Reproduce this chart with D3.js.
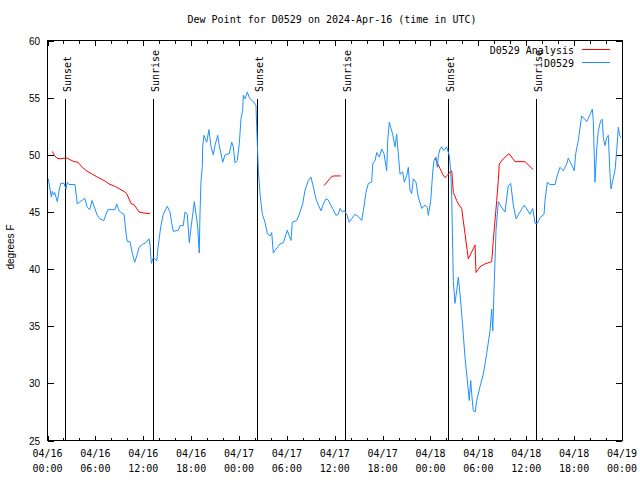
<!DOCTYPE html>
<html><head><meta charset="utf-8">
<script src="https://cdn.jsdelivr.net/npm/d3@7"></script>
<style>
body{margin:0;background:#fff;}
svg{display:block;}
</style></head>
<body><svg id="c" width="640" height="480"></svg>
<script>
// Hours since 2024-04-16 00:00 UTC
const obsHours = [0.10,0.48,0.60,0.75,0.90,1.23,1.44,1.65,2.07,2.32,2.48,2.69,3.45,3.73,4.07,4.32,4.66,4.99,5.29,5.58,5.83,6.24,6.58,6.87,7.08,7.33,7.58,8.46,8.67,8.96,9.30,9.59,9.88,10.00,10.34,10.59,10.93,11.25,11.47,11.88,12.31,12.72,12.85,13.01,13.26,13.69,13.89,14.19,14.51,15.01,15.35,15.57,15.77,16.39,16.61,17.02,17.23,17.52,17.77,17.95,18.20,18.40,18.61,18.82,19.02,19.11,19.24,19.40,19.45,19.61,19.95,20.24,20.49,20.78,20.99,21.33,21.53,21.83,21.96,22.25,22.78,23.09,23.29,23.50,23.79,24.04,24.25,24.46,24.54,24.75,25.04,25.29,25.59,25.88,26.13,26.22,26.30,26.43,26.63,26.92,27.26,27.55,27.89,28.10,28.30,28.64,29.14,29.55,30.05,30.30,30.52,30.68,31.23,31.56,31.98,32.27,32.69,33.02,33.31,33.65,33.94,34.28,34.57,34.90,35.19,35.49,35.74,36.16,36.45,36.66,36.95,37.20,37.50,37.82,38.12,38.54,38.95,39.38,39.58,39.92,40.21,40.63,40.76,41.05,41.26,41.58,41.89,42.17,42.51,42.64,42.84,43.01,43.26,43.55,43.76,43.96,44.18,44.52,44.72,45.02,45.22,45.43,45.64,45.85,46.18,46.47,46.90,47.31,47.60,47.73,48.03,48.28,48.44,48.69,48.85,48.98,49.19,49.40,49.63,49.82,50.03,50.36,50.53,50.66,50.86,51.07,51.28,51.48,51.70,51.91,52.11,52.32,52.54,52.86,53.04,53.16,53.36,53.61,53.79,54.20,54.62,55.04,55.46,55.67,55.80,56.00,56.21,56.50,56.92,57.34,57.75,58.05,58.38,58.72,59.22,59.76,60.47,60.81,61.10,61.39,61.73,62.23,62.35,62.64,62.98,63.61,63.89,64.23,64.64,65.07,65.27,65.70,66.02,66.20,66.52,66.95,67.24,67.58,67.90,68.28,68.40,68.62,68.83,69.03,69.33,69.53,69.66,69.87,70.08,70.28,70.50,70.62,70.84,71.12,71.34,71.54,71.67,71.85];
const obsDew = [47.9,46.3,46.8,46.5,46.7,45.9,46.8,47.5,47.5,47.0,47.6,47.4,47.4,45.7,45.9,46.0,46.2,45.4,45.2,46.0,45.5,44.7,44.4,44.3,44.25,44.8,45.2,45.2,45.7,45.1,44.9,44.8,42.9,42.4,42.4,41.5,40.6,41.3,41.9,42.15,42.3,42.65,42.1,40.5,41.0,40.75,42.1,43.7,44.8,45.5,45.0,44.0,43.3,43.4,43.8,43.8,45.0,44.8,42.3,43.4,44.8,45.9,44.8,43.7,41.4,44.8,47.75,48.9,50.7,51.7,51.1,52.2,50.7,50.0,50.8,51.7,50.8,49.8,49.35,50.0,50.1,51.1,50.7,49.3,49.5,51.0,53.15,53.9,55.2,54.9,55.5,55.0,54.75,54.6,54.3,52.4,50.9,48.6,46.6,44.8,44.1,43.1,42.9,43.2,41.4,41.75,42.2,42.3,43.4,42.9,42.5,44.1,44.25,44.8,45.7,46.9,47.75,48.05,47.2,46.15,45.6,45.1,45.7,46.15,46.05,45.6,45.3,44.7,44.8,45.3,45.0,45.1,44.8,44.1,44.4,44.8,44.6,44.25,45.1,46.7,47.5,47.6,49.2,49.5,50.2,49.8,50.5,50.1,48.6,51.25,52.85,52.4,51.8,50.7,51.8,50.1,48.3,48.5,47.6,48.2,48.9,46.9,46.6,47.9,47.6,46.3,45.3,45.6,45.4,44.7,46.0,48.5,49.5,49.8,48.9,49.9,50.5,50.7,50.4,50.5,50.7,49.9,48.6,46.3,39.0,37.0,38.1,39.3,37.8,36.1,34.3,32.3,30.8,28.5,30.25,29.1,27.6,27.5,28.5,29.7,30.8,32.6,34.6,36.5,34.6,39.0,43.4,45.9,45.4,45.0,47.3,47.5,45.6,44.4,45.0,45.6,44.8,45.3,44.0,44.0,44.5,44.8,46.0,47.6,47.4,47.4,48.2,48.9,48.6,49.2,49.7,49.1,48.6,50.1,51.25,53.4,53.2,52.9,53.35,54.0,53.0,47.6,50.5,52.1,53.0,53.1,51.5,50.8,51.5,51.7,48.3,47.0,47.75,48.6,50.4,52.4,51.8,51.5];

// Analysis series (three separate pieces)
const anaHours1 = [0.60,0.81,1.19,1.57,2.07,2.48,3.32,3.82,4.36,4.99,5.61,6.24,7.08,7.71,8.55,9.59,9.93,10.50,10.84,11.47,12.09,12.85];
const anaDew1   = [50.3,50.0,49.7,49.65,49.7,49.7,49.4,49.35,48.9,48.55,48.3,48.05,47.75,47.45,47.2,46.8,46.6,45.7,45.65,45.0,44.9,44.85];
const anaHours2 = [34.65,35.62,35.90,36.75];
const anaDew2   = [47.3,48.1,48.15,48.15];
const anaHours3 = [48.57,49.19,49.53,49.82,50.11,50.45,50.66,50.86,51.28,51.48,51.91,52.11,52.32,52.74,53.58,53.70,54.20,54.83,55.67,55.87,56.30,56.50,56.62,57.13,57.84,58.59,59.84,60.88];
const anaDew3   = [49.7,48.8,48.3,48.0,48.2,48.5,48.6,46.7,46.0,45.7,45.3,44.25,43.1,40.9,42.1,39.7,40.2,40.45,40.65,42.5,46.0,47.75,49.2,49.65,50.1,49.4,49.4,48.7];

const sunEvents = ["Sunset","Sunrise","Sunset","Sunrise","Sunset","Sunrise"];
const sunHours  = [2.23,13.27,26.23,37.27,50.23,61.27];

const xTickHours = [0,6,12,18,24,30,36,42,48,54,60,66,72];
const xTickDates = ["04/16","04/16","04/16","04/16","04/17","04/17","04/17","04/17","04/18","04/18","04/18","04/18","04/19"];
const xTickTimes = ["00:00","06:00","12:00","18:00","00:00","06:00","12:00","18:00","00:00","06:00","12:00","18:00","00:00"];
const yTicks = [25,30,35,40,45,50,55,60];

const titleText = "Dew Point for D0529 on 2024-Apr-16 (time in UTC)";
const yLabel = "degrees F";
const seriesNames = ["D0529 Analysis","D0529"];

const L=47.5, R=622, T=40.5, B=440.5;
const svg = d3.select("#c");
const x = d3.scaleLinear().domain([0,72]).range([L,R]);
const y = d3.scaleLinear().domain([25,60]).range([B,T]);
const mono = "'DejaVu Sans Mono', monospace";
const sans = "'Liberation Sans', Arial, sans-serif";
const BLUE = "#1e90ff", RED = "#ff0000";

// title
svg.append("text").attr("x",332).attr("y",23).attr("text-anchor","middle")
  .style("font-family",mono).style("font-size","10px").text(titleText);

// y label
svg.append("text").attr("transform","translate(14,247) rotate(-90)").attr("text-anchor","middle")
  .style("font-family",sans).style("font-size","10px").text(yLabel);

// frame
svg.append("rect").attr("x",L).attr("y",T).attr("width",R-L).attr("height",B-T)
  .attr("fill","none").attr("stroke","#000").attr("stroke-width",1).attr("shape-rendering","crispEdges");

// x ticks every 2 h
const g = svg.append("g").attr("shape-rendering","crispEdges").attr("stroke","#000");
d3.range(0,73,2).forEach(h=>{
  const len = (h%6===0)?5:3;
  const xx = Math.round(x(h))+0.5;
  g.append("line").attr("x1",xx).attr("x2",xx).attr("y1",B).attr("y2",B-len);
  g.append("line").attr("x1",xx).attr("x2",xx).attr("y1",T).attr("y2",T+len);
});
// y ticks
yTicks.forEach(v=>{
  const yy = Math.round(y(v))+0.5;
  g.append("line").attr("x1",L).attr("x2",L+6).attr("y1",yy).attr("y2",yy);
  g.append("line").attr("x1",R).attr("x2",R-6).attr("y1",yy).attr("y2",yy);
  svg.append("text").attr("x",40).attr("y",y(v)+4).attr("text-anchor","end")
    .style("font-family",sans).style("font-size","10px").text(v);
});
// x tick labels
xTickHours.forEach((h,i)=>{
  svg.append("text").attr("x",x(h)).attr("y",457).attr("text-anchor","middle")
    .style("font-family",mono).style("font-size","10px").text(xTickDates[i]);
  svg.append("text").attr("x",x(h)).attr("y",472).attr("text-anchor","middle")
    .style("font-family",mono).style("font-size","10px").text(xTickTimes[i]);
});

// sun lines
sunHours.forEach((h,i)=>{
  const xx = Math.round(x(h))+0.5;
  svg.append("line").attr("x1",xx).attr("x2",xx).attr("y1",99).attr("y2",B)
    .attr("stroke","#000").attr("shape-rendering","crispEdges");
  svg.append("text").attr("transform",`translate(${xx+5},92) rotate(-90)`)
    .style("font-family",mono).style("font-size","10px").text(sunEvents[i]);
});

const line = d3.line().x(d=>x(d[0])).y(d=>y(d[1]));
const zip = (a,b)=>a.map((v,i)=>[v,b[i]]);
[[anaHours1,anaDew1],[anaHours2,anaDew2],[anaHours3,anaDew3]].forEach(([h,v])=>{
  svg.append("path").datum(zip(h,v)).attr("d",line).attr("fill","none").attr("stroke",RED).attr("stroke-width",1);
});
svg.append("path").datum(zip(obsHours,obsDew)).attr("d",line).attr("fill","none").attr("stroke",BLUE).attr("stroke-width",1);

// legend
const leg = [[seriesNames[0],RED,49.5,53.5],[seriesNames[1],BLUE,62.5,66.5]];
leg.forEach(([name,col,ly,ty])=>{
  svg.append("text").attr("x",574).attr("y",ty).attr("text-anchor","end")
    .style("font-family",mono).style("font-size","10px").text(name);
  svg.append("line").attr("x1",582).attr("x2",610).attr("y1",ly).attr("y2",ly)
    .attr("stroke",col).attr("shape-rendering","crispEdges");
});
</script></body></html>
